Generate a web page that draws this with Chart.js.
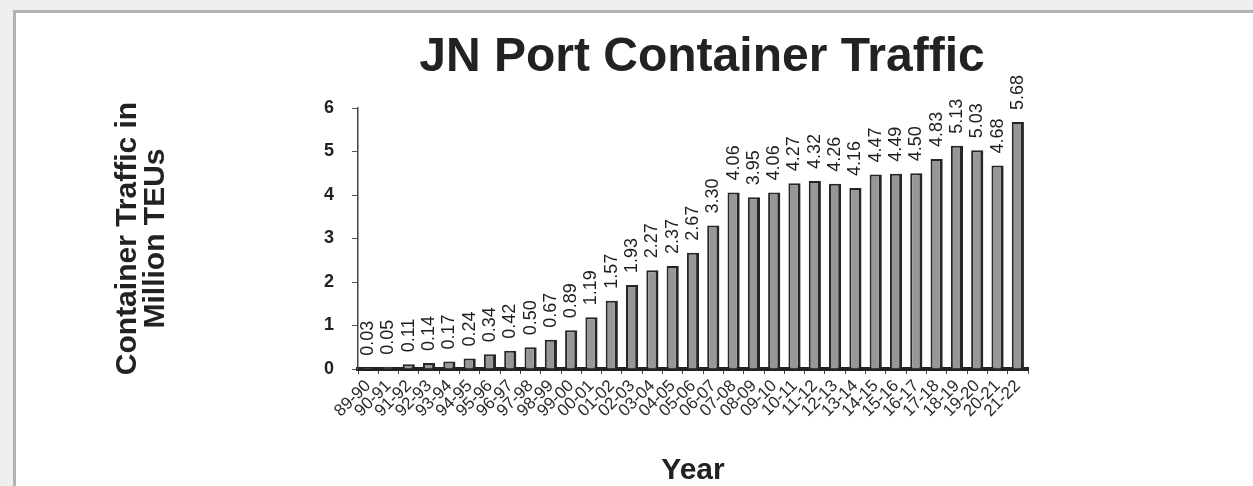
<!DOCTYPE html>
<html>
<head>
<meta charset="utf-8">
<script src="https://cdn.jsdelivr.net/npm/chart.js@4"></script>
<style>
  html, body { margin: 0; padding: 0; width: 1253px; height: 486px; overflow: hidden; background: #efefef; }
  #panel { position: absolute; left: 13px; top: 10px; right: 0; bottom: 0; background: #ffffff;
           border-left: 3px solid #b3b3b3; border-top: 3px solid #b3b3b3; }
  #c { position: absolute; left: 0; top: 0; }
</style>
</head>
<body>
<div id="panel"></div>
<canvas id="c" width="1253" height="486"></canvas>
<script>
const years = ['89-90','90-91','91-92','92-93','93-94','94-95','95-96','96-97','97-98','98-99',
  '99-00','00-01','01-02','02-03','03-04','04-05','05-06','06-07','07-08','08-09','09-10',
  '10-11','11-12','12-13','13-14','14-15','15-16','16-17','17-18','18-19','19-20','20-21','21-22'];
const traffic = [0.03,0.05,0.11,0.14,0.17,0.24,0.34,0.42,0.50,0.67,0.89,1.19,1.57,1.93,2.27,2.37,
  2.67,3.30,4.06,3.95,4.06,4.27,4.32,4.26,4.16,4.47,4.49,4.50,4.83,5.13,5.03,4.68,5.68];
const yMin = 0, yMax = 6, yStep = 1;
const chartTitle = 'JN Port Container Traffic';
const yTitle = ['Container Traffic in', 'Million TEUs'];
const xTitle = 'Year';

const FONT = "'Liberation Sans', Arial, Helvetica, sans-serif";

const titlePlugin = {
  id: 'mainTitle',
  afterDraw(chart) {
    const ctx = chart.ctx;
    ctx.save();
    ctx.font = 'bold 48px ' + FONT;
    ctx.fillStyle = '#222';
    ctx.textAlign = 'center';
    ctx.textBaseline = 'middle';
    ctx.fillText(chartTitle, 702, 58);
    ctx.restore();
  }
};

const valueLabels = {
  id: 'valueLabels',
  afterDatasetsDraw(chart) {
    const ctx = chart.ctx;
    const meta = chart.getDatasetMeta(0);
    ctx.save();
    ctx.font = '18px ' + FONT;
    ctx.fillStyle = '#1e1e1e';
    ctx.textAlign = 'left';
    ctx.textBaseline = 'middle';
    meta.data.forEach((bar, i) => {
      ctx.save();
      ctx.translate(bar.x, bar.y - 12);
      ctx.rotate(-Math.PI / 2);
      ctx.fillText(traffic[i].toFixed(2), 0, 0);
      ctx.restore();
    });
    ctx.restore();
  }
};

new Chart(document.getElementById('c'), {
  type: 'bar',
  data: {
    labels: years,
    datasets: [{
      data: traffic,
      backgroundColor: '#979797',
      borderColor: '#262626',
      borderWidth: {left: 2, right: 3, top: 2, bottom: 0},
      borderSkipped: false,
      barPercentage: 0.6,
      categoryPercentage: 1.0
    }]
  },
  options: {
    responsive: false,
    animation: false,
    devicePixelRatio: 1,
    layout: { padding: { top: 108, left: 114, right: 225, bottom: 0 } },
    plugins: { legend: { display: false }, title: { display: false }, tooltip: { enabled: false } },
    scales: {
      x: {
        afterFit(scale) { scale.height = 117; },
        grid: { drawOnChartArea: false, drawTicks: true, tickLength: 5, color: '#444', offset: true },
        border: { display: true, color: '#222', width: 4 },
        ticks: {
          autoSkip: false, maxRotation: 45, minRotation: 45, padding: 2,
          color: '#2a2a2a', font: { family: FONT, size: 17 }
        },
        title: {
          display: true, text: xTitle, color: '#222',
          font: { family: FONT, size: 30, weight: 'bold', lineHeight: 1 },
          padding: { top: 0, bottom: 0 }
        }
      },
      y: {
        min: yMin, max: yMax,
        afterFit(scale) { scale.width = 244; },
        grid: { drawOnChartArea: false, drawTicks: true, tickLength: 6, color: '#555' },
        border: { display: true, color: '#444', width: 1.5 },
        ticks: {
          stepSize: yStep, padding: 18, color: '#222',
          font: { family: FONT, size: 18, weight: 'bold' }
        },
        title: {
          display: true, text: yTitle, color: '#222',
          font: { family: FONT, size: 30, weight: 'bold', lineHeight: '28px' },
          padding: { top: 0, bottom: 0 }
        }
      }
    }
  },
  plugins: [titlePlugin, valueLabels]
});
</script>
</body>
</html>
